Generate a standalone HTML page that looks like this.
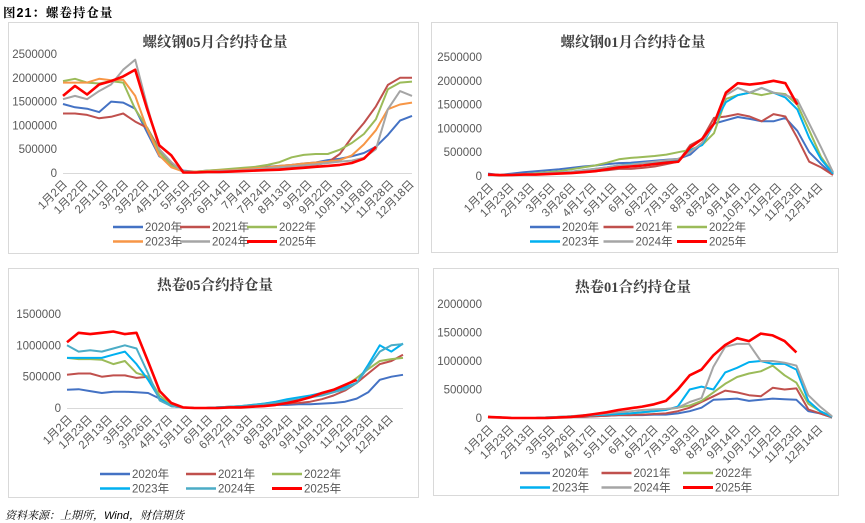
<!DOCTYPE html>
<html><head><meta charset="utf-8">
<style>
html,body{margin:0;padding:0;background:#fff;}
body{width:865px;height:523px;position:relative;overflow:hidden;font-family:"Liberation Sans","Noto Sans CJK SC",sans-serif;}
#hdr{position:absolute;left:3px;top:3px;font-size:12.5px;font-weight:bold;color:#000;font-family:"Liberation Sans","Noto Serif CJK SC",serif;letter-spacing:1px;}
#ftr{position:absolute;left:5px;top:507px;font-size:11px;font-style:italic;color:#000;font-family:"Liberation Sans","Noto Serif CJK SC",serif;}
svg{position:absolute;left:0;top:0;}
</style></head><body>
<div id="hdr">图21：螺卷持仓量</div>
<svg id="chart" width="865" height="523"></svg>
<div id="ftr">资料来源：上期所，Wind，财信期货</div>
<script>
// values in units of 10,000 contracts, sampled at 30 evenly spaced dates per panel
const years = ["2020年","2021年","2022年","2023年","2024年","2025年"];
const p1Ticks = ["1月2日","1月22日","2月11日","3月2日","3月22日","4月12日","5月5日","5月25日","6月14日","7月4日","7月24日","8月13日","9月2日","9月22日","10月19日","11月8日","11月28日","12月18日"];
const p2Ticks = ["1月2日","1月23日","2月13日","3月5日","3月26日","4月17日","5月11日","6月1日","6月22日","7月13日","8月3日","8月24日","9月14日","10月12日","11月2日","11月23日","12月14日"];
const p1YTicks = [0,500000,1000000,1500000,2000000,2500000];
const p2YTicks = [0,500000,1000000,1500000,2000000,2500000];
const p3YTicks = [0,500000,1000000,1500000];
const p4YTicks = [0,500000,1000000,1500000,2000000];

const p1_2020=[145,138,135,128,150,148,135,85,35,20,5,3,5,6,8,9,11,13,15,17,20,22,27,30,35,42,55,80,110,120];
const p1_2021=[125,125,122,115,118,125,108,95,50,18,3,2,3,4,5,6,7,8,10,12,14,17,22,40,75,105,140,185,200,200];
const p1_2022=[193,198,190,188,193,190,134,95,44,16,3,3,5,7,9,11,13,17,23,33,38,40,40,49,63,82,113,176,190,192];
const p1_2023=[190,190,190,198,195,196,162,92,37,12,3,3,4,5,6,8,10,12,15,17,20,22,24,27,37,60,90,134,144,148];
const p1_2024=[155,162,155,172,186,217,238,141,50,23,2,2,3,4,5,6,8,10,12,14,16,18,21,24,26,32,50,134,172,162];
const p1_2025=[162,183,165,186,193,203,217,134,58,37,1,1,2,2,3,4,5,6,7,9,11,13,15,17,21,30,55];

const p2_2020=[5,2,5,8,10,12,14,17,20,22,25,27,28,30,32,34,36,45,68,110,117,124,120,115,115,122,95,50,25,3];
const p2_2021=[3,1,2,3,4,5,6,7,8,10,12,15,15,17,20,25,30,65,78,122,125,130,125,115,130,125,80,30,18,2];
const p2_2022=[3,2,3,4,6,8,10,14,18,22,28,35,38,40,42,45,50,55,65,90,162,170,175,170,175,172,150,96,40,5];
const p2_2023=[3,2,3,4,5,6,7,9,12,15,18,22,25,27,28,30,33,54,65,110,155,170,175,185,175,165,140,80,35,5];
const p2_2024=[3,2,3,4,5,6,7,9,12,15,18,22,24,27,30,33,36,50,70,110,170,185,175,185,175,170,160,110,60,8];
const p2_2025=[3,2,2,3,3,4,5,6,8,10,14,18,20,22,25,28,30,60,78,110,175,195,192,195,200,195,150];

const p3_2020=[29,30,27,24,26,26,25,24,15,5,1,0,0,1,1,2,3,4,5,5,6,6,7,8,10,15,25,45,50,53];
const p3_2021=[53,55,55,50,52,52,48,50,15,3,1,0,0,1,1,2,3,4,6,7,8,10,14,20,28,40,55,70,75,85];
const p3_2022=[80,78,78,77,70,75,56,50,20,5,1,0,0,1,2,3,5,7,9,12,14,17,22,28,35,48,62,75,78,80];
const p3_2023=[80,80,80,80,85,90,70,45,15,3,1,0,0,1,2,3,5,7,10,14,17,20,24,28,33,40,69,100,90,103];
const p3_2024=[100,90,92,90,95,100,95,55,12,3,1,0,0,1,2,3,4,6,8,11,14,17,20,25,30,40,65,90,100,102];
const p3_2025=[105,120,118,120,122,118,120,74,27,8,1,0,0,0,1,1,2,3,5,8,12,17,24,29,37,45];

const p4_2020=[2,1,0,0,0,1,1,2,2,3,4,5,5,5,6,6,8,12,18,32,33,34,30,32,34,33,32,12,8,1];
const p4_2021=[2,1,0,0,0,1,1,2,2,3,4,5,5,6,7,8,12,18,28,38,48,45,40,38,53,50,52,15,8,1];
const p4_2022=[2,1,0,0,0,1,2,3,4,5,6,7,8,10,12,15,18,22,30,45,60,72,78,82,92,75,62,25,12,2];
const p4_2023=[2,1,0,0,0,1,2,3,4,5,6,7,8,10,12,14,20,50,55,50,80,88,98,100,95,95,85,30,12,2];
const p4_2024=[2,1,0,0,0,1,2,3,5,6,8,10,12,14,15,16,18,28,35,90,125,130,130,100,100,97,92,40,20,3];
const p4_2025=[2,1,0,0,0,0,1,2,4,7,10,14,17,20,24,30,50,75,85,110,128,140,135,148,145,135,115];

const NS="http://www.w3.org/2000/svg";
const svg=document.getElementById('chart');
function mk(tag,attrs,parent){const e=document.createElementNS(NS,tag);for(const k in attrs)e.setAttribute(k,attrs[k]);(parent||svg).appendChild(e);return e;}

const panels=[
 {key:"rebar-05",title:"螺纹钢05月合约持仓量",box:[8,22,410,231],x0:63,x1:412,y0:173,yTop:54,ymax:2500000,yt:p1YTicks,ticks:p1Ticks,tx0:62,tstep:20.4,
  series:[p1_2020,p1_2021,p1_2022,p1_2023,p1_2024,p1_2025],colors:["#4472C4","#C0504D","#9BBB59","#F79646","#A5A5A5","#FF0000"],
  titleX:215,titleY:47,legX:113,legStep:67,legY:227},
 {key:"rebar-01",title:"螺纹钢01月合约持仓量",box:[431,22,406,230],x0:488,x1:833,y0:176,yTop:57,ymax:2500000,yt:p2YTicks,ticks:p2Ticks,tx0:488,tstep:20.6,
  series:[p2_2020,p2_2021,p2_2022,p2_2023,p2_2024,p2_2025],colors:["#4472C4","#C0504D","#9BBB59","#00B0F0","#A5A5A5","#FF0000"],
  titleX:633,titleY:47,legX:530,legStep:73.5,legY:227},
 {key:"hrc-05",title:"热卷05合约持仓量",box:[8,268,410,229],x0:67,x1:403,y0:408,yTop:314,ymax:1500000,yt:p3YTicks,ticks:p2Ticks,tx0:67,tstep:20.06,
  series:[p3_2020,p3_2021,p3_2022,p3_2023,p3_2024,p3_2025],colors:["#4472C4","#C0504D","#9BBB59","#00B0F0","#4BACC6","#FF0000"],
  titleX:215,titleY:290,legX:100,legStep:86,legY:474},
 {key:"hrc-01",title:"热卷01合约持仓量",box:[433,268,405,227],x0:488,x1:832,y0:418,yTop:304,ymax:2000000,yt:p4YTicks,ticks:p2Ticks,tx0:488,tstep:20.6,
  series:[p4_2020,p4_2021,p4_2022,p4_2023,p4_2024,p4_2025],colors:["#4472C4","#C0504D","#9BBB59","#00B0F0","#A5A5A5","#FF0000"],
  titleX:633,titleY:292,legX:520,legStep:81.5,legY:473}
];

panels.forEach(p=>{
  const g=mk('g',{});
  
  
  const b=mk('rect',{x:p.box[0]+0.5,y:p.box[1]+0.5,width:p.box[2],height:p.box[3],fill:'#fff',stroke:'#D9D9D9'},g);
  
  
  const t=mk('text',{x:p.titleX,y:p.titleY,'text-anchor':'middle','font-size':'14.5','font-weight':'bold',fill:'#404040','font-family':'"Liberation Serif","Noto Serif CJK SC",serif'},g);
  t.textContent=p.title;
  
  
  const N=30;
  const sx=i=>p.x0+(p.x1-p.x0)*i/(N-1);
  const sy=v=>p.y0-(v/p.ymax)*(p.y0-p.yTop);
  // y ticks
  p.yt.forEach(v=>{
    const yl=mk('text',{x:p.x0-6,y:sy(v)+4,'text-anchor':'end','font-size':'11.5',fill:'#595959'},g);
    yl.textContent=String(v);
    
    
  });
  const ax=mk('line',{x1:p.x0,x2:p.x1,y1:p.y0+0.5,y2:p.y0+0.5,stroke:'#D9D9D9'},g);
  
  
  // x ticks
  p.ticks.forEach((lab,i)=>{
    const x=p.tx0+p.tstep*i;
    const xl=mk('text',{transform:`translate(${x+3},${p.y0+9}) rotate(-45)`,'text-anchor':'end','font-size':'11.5',fill:'#595959',dy:'0.35em'},g);
    xl.textContent=lab;
    
    
  });
  // series
  p.series.forEach((arr,si)=>{
    const pts=arr.map((v,i)=>sx(i).toFixed(1)+','+sy(v*10000).toFixed(1)).join(' ');
    const pl=mk('polyline',{points:pts,fill:'none',stroke:p.colors[si],'stroke-width':si===5?2.6:2,'stroke-linejoin':'round'},g);
    
    
  });
  // legend
  years.forEach((y,i)=>{
    const col=i%3,row=Math.floor(i/3);
    const lx=p.legX+col*p.legStep, ly=p.legY+row*14.5;
    const lg=mk('g',{},g);
    
    
    mk('line',{x1:lx,x2:lx+30,y1:ly,y2:ly,stroke:p.colors[i],'stroke-width':i===5?3:2.6},lg);
    const tt=mk('text',{x:lx+32,y:ly+4,'font-size':'11.5',fill:'#595959'},lg);
    tt.textContent=y;
  });
});
</script>
</body></html>
